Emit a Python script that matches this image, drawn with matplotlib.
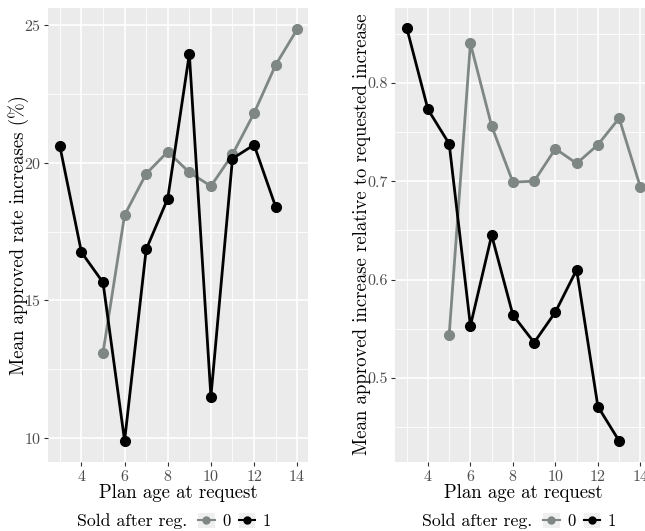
import matplotlib
matplotlib.use("Agg")
import matplotlib.pyplot as plt
from matplotlib.lines import Line2D
from matplotlib.patches import Rectangle
from matplotlib.legend_handler import HandlerTuple

plt.rcParams['font.family'] = ['cmr10', 'DejaVu Serif']
plt.rcParams['axes.formatter.use_mathtext'] = True
plt.rcParams['mathtext.fontset'] = 'cm'

# plan age at request
age_sold = [3, 4, 5, 6, 7, 8, 9, 10, 11, 12, 13]
age_kept = [5, 6, 7, 8, 9, 10, 11, 12, 13, 14]

# left panel: mean approved rate increase (%)
rate_sold = [20.6, 16.75, 15.65, 9.9, 16.85, 18.7, 23.95, 11.5, 20.15, 20.65, 18.4]
rate_kept = [13.1, 18.1, 19.6, 20.4, 19.65, 19.15, 20.3, 21.8, 23.55, 24.85]

# right panel: approved increase relative to requested increase
ratio_sold = [0.856, 0.773, 0.738, 0.553, 0.645, 0.564, 0.536, 0.567, 0.610, 0.471, 0.436]
ratio_kept = [0.544, 0.840, 0.756, 0.699, 0.700, 0.733, 0.718, 0.737, 0.764, 0.694]

gray = '#7f8784'
black = '#000000'

W, H = 645.0, 531.0
fig = plt.figure(figsize=(W / 100, H / 100), dpi=100)
ax1 = fig.add_axes([48 / W, (H - 462) / H, 260 / W, 454 / H])
ax2 = fig.add_axes([395 / W, (H - 462) / H, 256 / W, 454 / H])


def style(ax, yticks, yminor, ylim):
    ax.set_facecolor('#ebebeb')
    for s in ax.spines.values():
        s.set_visible(False)
    ax.set_xlim(2.45, 14.5)
    ax.set_ylim(*ylim)
    ax.set_xticks([4, 6, 8, 10, 12, 14])
    ax.set_xticks([3, 5, 7, 9, 11, 13], minor=True)
    ax.set_yticks(yticks)
    ax.set_yticks(yminor, minor=True)
    ax.grid(which='major', color='white', linewidth=1.2)
    ax.grid(which='minor', color='white', linewidth=0.6)
    ax.set_axisbelow(True)
    ax.tick_params(which='major', length=3, width=0.8, color='#333333',
                   labelcolor='#4d4d4d', labelsize=11.5, pad=2)
    ax.tick_params(which='minor', length=0)
    ax.set_xlabel('Plan age at request', fontsize=13.5, labelpad=0)


def lines(ax, ykept, ysold):
    ax.plot(age_kept, ykept, color=gray, linewidth=2, marker='o', markersize=7)
    ax.plot(age_sold, ysold, color=black, linewidth=2, marker='o', markersize=7)


def legend(ax, x0):
    # title drawn as text, keys as a legend to its right
    fig.text(x0 / W, 1 - 521 / H, 'Sold after reg.', fontsize=12.8, va='center', ha='left')
    hk = (Rectangle((0, 0), 1, 1, facecolor='#efefef', edgecolor='none'),
          Line2D([], [], color=gray, marker='o', markersize=5, linewidth=1.5))
    hs = (Rectangle((0, 0), 1, 1, facecolor='#efefef', edgecolor='none'),
          Line2D([], [], color=black, marker='o', markersize=5, linewidth=1.5))
    fig.legend([hk, hs], ['0', '1'],
               handler_map={tuple: HandlerTuple(ndivide=1)},
               loc='center left', bbox_to_anchor=((x0 + 121) / W, 1 - 521 / H),
               ncol=2, frameon=False, fontsize=12,
               handlelength=1.0, handleheight=1.0, handletextpad=0.45,
               columnspacing=0.5, borderaxespad=0, borderpad=0)


lines(ax1, rate_kept, rate_sold)
style(ax1, [10, 15, 20, 25], [12.5, 17.5, 22.5], (9.13, 25.62))
ax1.set_ylabel('Mean approved rate increases (%)', fontsize=13.5)
ax1.yaxis.set_label_coords(-0.072, 0.5)
legend(ax1, 77)

lines(ax2, ratio_kept, ratio_sold)
style(ax2, [0.5, 0.6, 0.7, 0.8], [0.45, 0.55, 0.65, 0.75, 0.85], (0.4146, 0.876))
ax2.set_yticklabels(['0.5', '0.6', '0.7', '0.8'])
ax2.set_ylabel('Mean approved increase relative to requested increase', fontsize=13.5)
ax2.yaxis.set_label_coords(-0.094, 0.502)
legend(ax2, 422)

fig.savefig('out.png', dpi=100)
